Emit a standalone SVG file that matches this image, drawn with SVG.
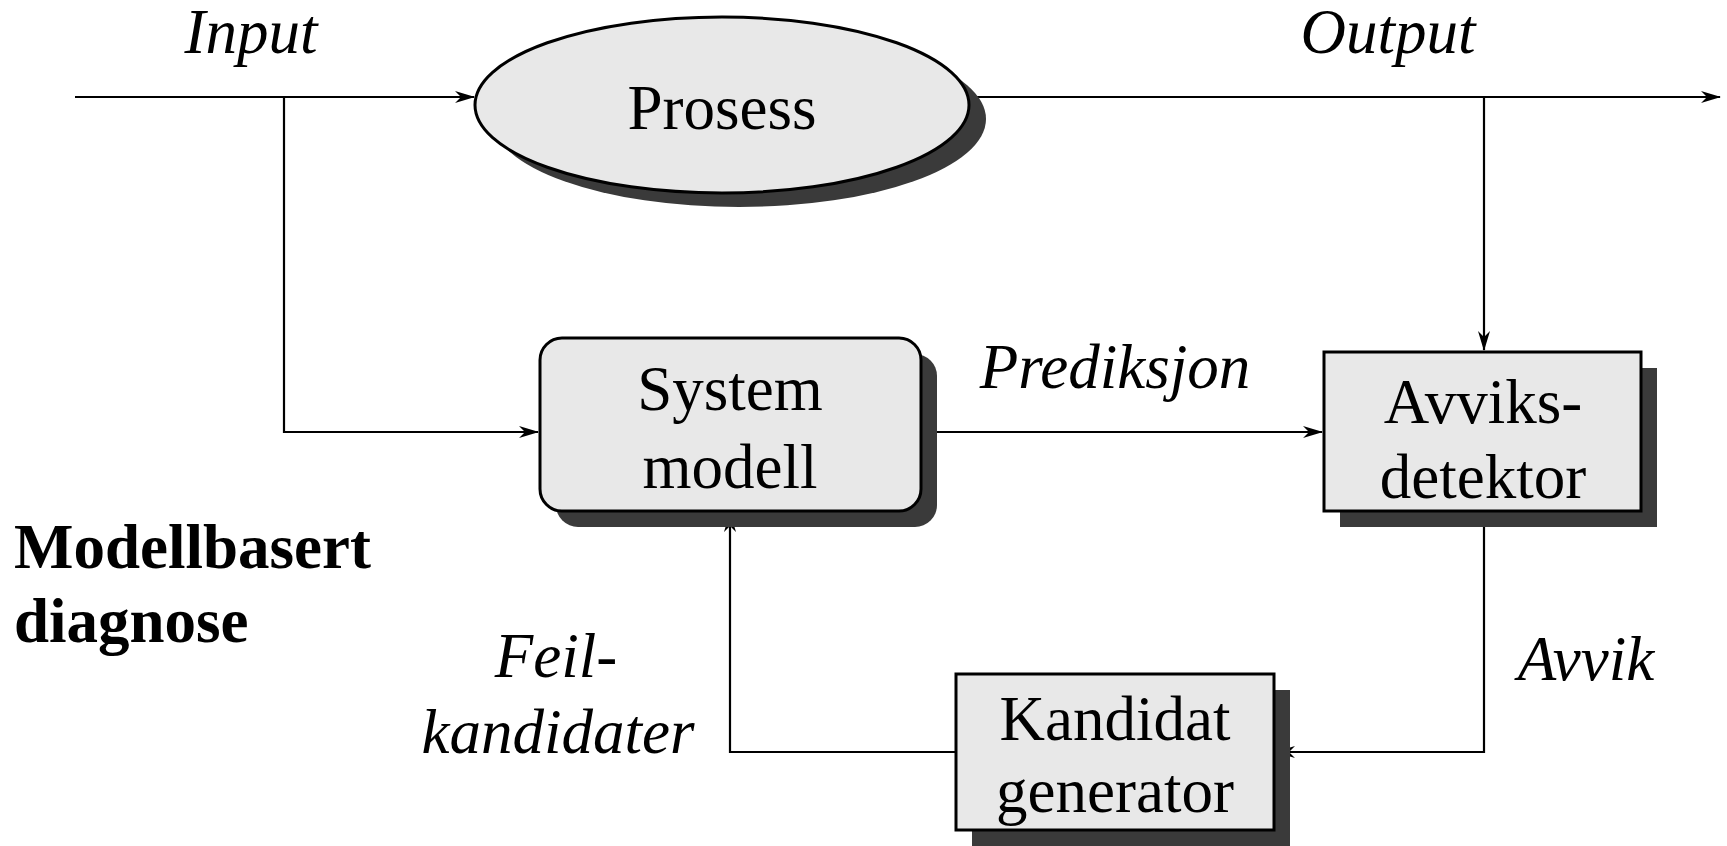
<svg xmlns="http://www.w3.org/2000/svg" width="1727" height="846" viewBox="0 0 1727 846">
<style>
.ln{fill:none;stroke:#000;stroke-width:2.2}
.box{fill:#e8e8e8;stroke:#000;stroke-width:3}
.sh{fill:#3a3a3a;stroke:none}
.t{font-size:63px;fill:#000;text-anchor:middle}
.i{font-style:italic}
.b{font-weight:bold;text-anchor:start}
</style>
<defs>
<marker id="ah" viewBox="0 0 20 12" markerWidth="20" markerHeight="12" refX="19" refY="6" orient="auto" markerUnits="userSpaceOnUse">
<path d="M0,0 L20,6 L0,12 L6,6 z" fill="#000"/>
</marker>
</defs>
<g id="labels">
<text class="t i" x="251" y="53" font-family="Liberation Serif">Input</text>
<text class="t i" x="1388" y="53" font-family="Liberation Serif">Output</text>
<text class="t i" x="1115" y="388" font-family="Liberation Serif">Prediksjon</text>
<text class="t i" x="1586" y="680" font-family="Liberation Serif">Avvik</text>
<text class="t i" x="556" y="677" font-family="Liberation Serif">Feil-</text>
<text class="t i" x="558" y="753" font-family="Liberation Serif">kandidater</text>
<text class="t b" x="14" y="568" font-family="Liberation Serif">Modellbasert</text>
<text class="t b" x="14" y="642" font-family="Liberation Serif">diagnose</text>
</g>
<g id="connectors">
<path class="ln" d="M75,97 H474" marker-end="url(#ah)"/>
<path class="ln" d="M284,97 V432 H538" marker-end="url(#ah)"/>
<path class="ln" d="M969,97 H1720" marker-end="url(#ah)"/>
<path class="ln" d="M1484,97 V350" marker-end="url(#ah)"/>
<path class="ln" d="M921,432 H1322" marker-end="url(#ah)"/>
<path class="ln" d="M1484,511 V752 H1276" marker-end="url(#ah)"/>
<path class="ln" d="M956,752 H730 V513" marker-end="url(#ah)"/>
</g>
<g id="prosess">
<ellipse class="sh" cx="739" cy="119" rx="247" ry="88"/>
<ellipse class="box" cx="722" cy="105" rx="247" ry="88"/>
<text class="t" x="722" y="129" font-family="Liberation Serif">Prosess</text>
</g>
<g id="systemmodell">
<rect class="sh" x="556" y="354" width="381" height="173" rx="22"/>
<rect class="box" x="540" y="338" width="381" height="173" rx="22"/>
<text class="t" x="730" y="410" font-family="Liberation Serif">System</text>
<text class="t" x="730" y="488" font-family="Liberation Serif">modell</text>
</g>
<g id="avviksdetektor">
<rect class="sh" x="1340" y="368" width="317" height="159"/>
<rect class="box" x="1324" y="352" width="317" height="159"/>
<text class="t" x="1483" y="423" font-family="Liberation Serif">Avviks-</text>
<text class="t" x="1483" y="498" font-family="Liberation Serif">detektor</text>
</g>
<g id="kandidatgenerator">
<rect class="sh" x="972" y="690" width="318" height="160"/>
<rect class="box" x="956" y="674" width="318" height="156"/>
<text class="t" x="1115" y="740" font-family="Liberation Serif">Kandidat</text>
<text class="t" x="1115" y="812" font-family="Liberation Serif">generator</text>
</g>
</svg>
